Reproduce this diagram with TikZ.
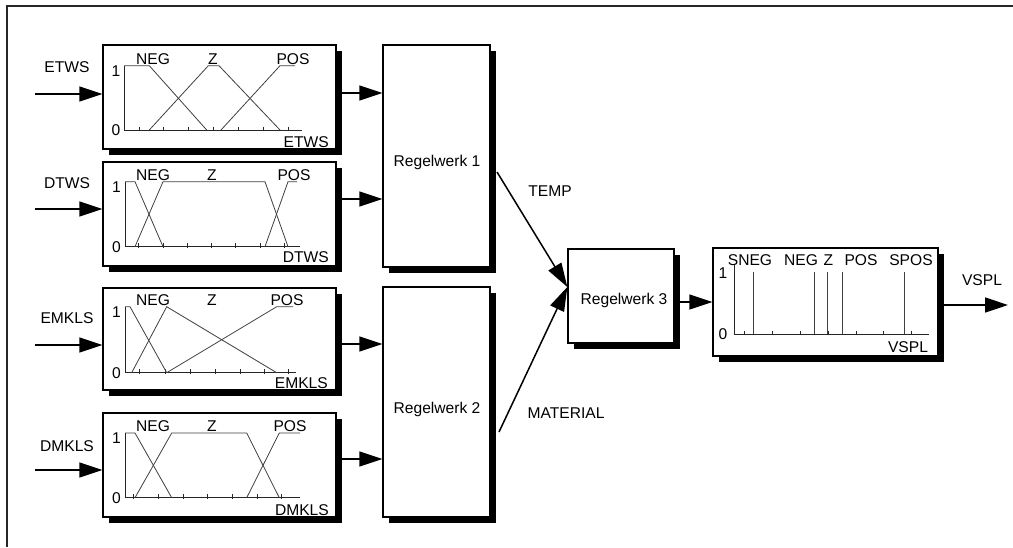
\documentclass[tikz,border=0pt]{standalone}
\usepackage{fontspec}
\setmainfont{Liberation Sans}
\usetikzlibrary{arrows.meta,shadows,calc}
\begin{document}
\begin{tikzpicture}[x=1pt,y=-1pt,
  every node/.style={font=\fontsize{15.6}{18}\selectfont, inner sep=0pt},
  box/.style={draw=black, line width=1.3pt, fill=white,
    drop shadow={shadow xshift=6pt, shadow yshift=-6pt, fill=black, opacity=1}},
  arr/.style={line width=1.5pt, -{Triangle[length=23pt,width=15pt]}},
  mf/.style={line width=0.8pt, black!75},
  ax/.style={line width=1pt, black!85},
  lbl/.style={anchor=base},
]
\useasboundingbox (0,0) rectangle (1013,547);
\draw[line width=2pt, black!85] (7,547) -- (7,6) -- (1013,6);

% fuzzy boxes
\node[box, minimum width=233pt, minimum height=104pt] (b1) at (219.5,97) {};
\node[box, minimum width=233pt, minimum height=104pt] (b2) at (219.5,214) {};
\node[box, minimum width=233pt, minimum height=102pt] (b3) at (219.5,339) {};
\node[box, minimum width=233pt, minimum height=104pt] (b4) at (219.5,465) {};
% rule boxes
\node[box, minimum width=107pt, minimum height=222pt] (r1) at (436.5,156) {};
\node[box, minimum width=107pt, minimum height=230pt] (r2) at (436.5,402) {};
\node[box, minimum width=106pt, minimum height=94pt] (r3) at (621,296) {};
\node[box, minimum width=225pt, minimum height=108pt] (v) at (825.5,302) {};

\node (r1t) at (437,162) {Regelwerk 1};
\node (r2t) at (437,409) {Regelwerk 2};
\node (r3t) at (624,300) {Regelwerk 3};

% ---------- box 1: ETWS
\draw[ax] (124,65.7) -- (124,130) -- (302,130);
\foreach \x in {139,163,188,213,238,263,288} \draw[ax] (\x,126.5) -- (\x,131);
\draw[mf] (124,65.7) -- (149.3,65.7) -- (206.7,130);
\draw[mf] (149.3,130) -- (208.3,65.7) -- (219,65.7) -- (280,130);
\draw[mf] (221,130) -- (280,65.7) -- (295,65.7);
\node[lbl] (n1a) at (153,64) {NEG};
\node[lbl] (n1b) at (213,64) {Z};
\node[lbl] (n1c) at (293,64) {POS};
\node[anchor=base east] (n1one) at (120.5,76) {1};
\node[anchor=east] (n1zero) at (120.5,130) {0};
\node[anchor=base east] (n1x) at (329,147) {ETWS};

% ---------- box 2: DTWS
\draw[ax] (125,181.7) -- (125,246.7) -- (300,246.7);
\foreach \x in {138,163,187,211,235,260,284} \draw[ax] (\x,243.2) -- (\x,247.7);
\draw[mf] (125,181.7) -- (135,181.7) -- (163,246.7);
\draw[mf] (135,246.7) -- (163,181.7) -- (265,181.7) -- (288,246.7);
\draw[mf] (265,246.7) -- (288,181.7) -- (297,181.7);
\node[lbl] (n2a) at (153,180) {NEG};
\node[lbl] (n2b) at (212,180) {Z};
\node[lbl] (n2c) at (294,180) {POS};
\node[anchor=base east] (n2one) at (121,192) {1};
\node[anchor=east] (n2zero) at (121,246.7) {0};
\node[anchor=base east] (n2x) at (329,262) {DTWS};

% ---------- box 3: EMKLS
\draw[ax] (125,306.7) -- (125,372.7) -- (296,372.7);
\foreach \x in {139,165,190,215,240,264,288} \draw[ax] (\x,369.2) -- (\x,373.7);
\draw[mf] (125,306.7) -- (130,306.7) -- (166.7,372.7);
\draw[mf] (131.7,372.7) -- (166.7,306.7) -- (276.7,372.7);
\draw[mf] (166.7,372.7) -- (276.7,306.7) -- (293,306.7);
\node[lbl] (n3a) at (153,305.7) {NEG};
\node[lbl] (n3b) at (212,305.7) {Z};
\node[lbl] (n3c) at (287,305.7) {POS};
\node[anchor=base east] (n3one) at (121,317) {1};
\node[anchor=east] (n3zero) at (121,372.7) {0};
\node[anchor=base east] (n3x) at (328,388.3) {EMKLS};

% ---------- box 4: DMKLS
\draw[ax] (125,433) -- (125,497.7) -- (300,497.7);
\foreach \x in {133,158,183,207,232,257,281} \draw[ax] (\x,494.2) -- (\x,498.7);
\draw[mf] (125,433) -- (135,433) -- (171.7,497.7);
\draw[mf] (135,497.7) -- (171.7,433) -- (246.7,433) -- (279.3,497.7);
\draw[mf] (246.7,497.7) -- (279.3,433) -- (300,433);
\node[lbl] (n4a) at (153,431.7) {NEG};
\node[lbl] (n4b) at (212,431.7) {Z};
\node[lbl] (n4c) at (290,431.7) {POS};
\node[anchor=base east] (n4one) at (121,443.5) {1};
\node[anchor=east] (n4zero) at (121,497.7) {0};
\node[anchor=base east] (n4x) at (329,515) {DMKLS};

% ---------- output box VSPL
\draw[ax] (734,265) -- (734,334) -- (929,334);
\foreach \x in {744,772,800,828,856,883,911} \draw[ax] (\x,330.5) -- (\x,335);
\foreach \x in {753.3,814.3,827.7,842.3,904.3} \draw[mf] (\x,272) -- (\x,334);
\node[lbl] (n5a) at (750,265) {SNEG};
\node[lbl] (n5b) at (801,265) {NEG};
\node[lbl] (n5c) at (828.5,265) {Z};
\node[lbl] (n5d) at (861,265) {POS};
\node[lbl] (n5e) at (911,265) {SPOS};
\node (n5one) at (723,273) {1};
\node (n5zero) at (723,334) {0};
\node[lbl] (n5x) at (908,352.5) {VSPL};

% ---------- inputs
\node (lin1) at (67,67) {ETWS};
\node (lin2) at (67,183) {DTWS};
\node (lin3) at (67,318) {EMKLS};
\node (lin4) at (67,446) {DMKLS};
\coordinate (i1) at (35,94);
\coordinate (i2) at (35,209);
\coordinate (i3) at (35,345);
\coordinate (i4) at (35,470);
\draw[arr] (i1) -- (i1 -| b1.west);
\draw[arr] (i2) -- (i2 -| b2.west);
\draw[arr] (i3) -- (i3 -| b3.west);
\draw[arr] (i4) -- (i4 -| b4.west);

% ---------- fuzzy boxes to rule boxes
\coordinate (o1) at (336,93);
\coordinate (o2) at (336,199);
\coordinate (o3) at (336,344);
\coordinate (o4) at (336,459);
\draw[arr] (b1.east |- o1) -- (r1.west |- o1);
\draw[arr] (b2.east |- o2) -- (r1.west |- o2);
\draw[arr] (b3.east |- o3) -- (r2.west |- o3);
\draw[arr] (b4.east |- o4) -- (r2.west |- o4);

% ---------- rule boxes to Regelwerk 3
\coordinate (t1) at (497,172);
\coordinate (m1) at (499,432);
\draw[arr, -{Triangle[length=24pt,width=15pt]}] (t1) -- ([yshift=9pt]r3.west);
\draw[arr, -{Triangle[length=24pt,width=15pt]}] (m1) -- ([yshift=9pt]r3.west);
\node (temp) at (550,191) {TEMP};
\node (mat) at (566,413) {MATERIAL};

% ---------- Regelwerk 3 to output
\coordinate (o5) at (674,302);
\draw[arr] (r3.east |- o5) -- (v.west |- o5);
\coordinate (o6) at (938,305);
\coordinate (e6) at (1008,305);
\draw[arr] (v.east |- o6) -- (e6);
\node (vout) at (982,280) {VSPL};
\end{tikzpicture}
\end{document}
